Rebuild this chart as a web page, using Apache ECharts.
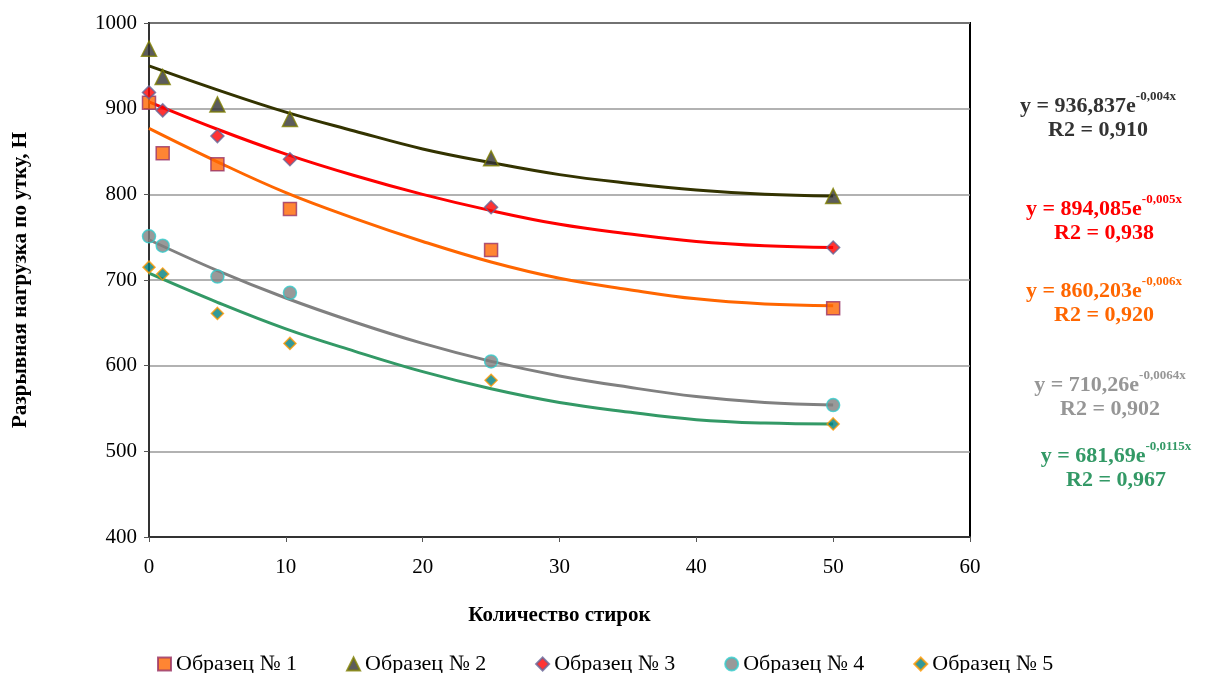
<!DOCTYPE html>
<html>
<head>
<meta charset="utf-8">
<script src="https://cdn.jsdelivr.net/npm/echarts@6/dist/echarts.min.js"></script>
<style>html,body{margin:0;padding:0;background:#fff}#c{width:1205px;height:673px}</style>
</head>
<body>
<div id="c"></div>
<script>
// ---- data ----
var seriesNames = ['Образец № 1', 'Образец № 2', 'Образец № 3', 'Образец № 4', 'Образец № 5'];
var washes = [0, 1, 5, 10.3, 25, 50];
var s1 = [907, 848, 835, 783, 735, 667];
var s2 = [970, 937, 905, 888, 842, 798];
var s3 = [919, 898, 868, 841, 785, 738];
var s4 = [751, 740, 704, 685, 605, 554];
var s5 = [715, 707, 661, 626, 583, 532];

// trend curves
var trendX = [0, 5, 10, 15, 20, 25, 30, 35, 40, 45, 50];
var t1 = [877, 838, 802, 772, 745, 721, 702, 689, 678, 672, 670];
var t2 = [950, 922, 896, 874, 853, 837, 823, 813, 805, 800, 798];
var t3 = [908, 876, 847, 822, 800, 781, 765, 754, 745, 740, 738];
var t4 = [747, 711, 679, 651, 626, 605, 588, 575, 564, 557, 554];
var t5 = [708, 674, 643, 617, 593, 573, 557, 546, 537, 533, 532];

var xTicks = [0, 10, 20, 30, 40, 50, 60];
var yTicks = [400, 500, 600, 700, 800, 900, 1000];

// annotations, top to bottom
var eqMain = ['y = 936,837e', 'y = 894,085e', 'y = 860,203e', 'y = 710,26e', 'y = 681,69e'];
var eqExp = ['-0,004x', '-0,005x', '-0,006x', '-0,0064x', '-0,0115x'];
var eqR2 = ['R2 = 0,910', 'R2 = 0,938', 'R2 = 0,920', 'R2 = 0,902', 'R2 = 0,967'];

// ---- styling ----
var FONT = '"Liberation Serif", "Times New Roman", serif';
var markerFill = ['#FF6600', '#333333', '#FF0000', '#808080', '#008080'];
var markerBorder = ['#993366', '#808000', '#666699', '#33CCCC', '#FF9900'];
var symbols = ['rect', 'triangle', 'diamond', 'circle', 'diamond'];
var symSizes = [13, 15, 13, 13, 12];
var trendColors = ['#FF6600', '#333300', '#FF0000', '#808080', '#339966'];
var eqColors = ['#333333', '#FF0000', '#FF6600', '#969696', '#339966'];
var eqX = [1098, 1104, 1104, 1110, 1116];
var eqY = [117, 220, 302, 396, 467];

var pts = [s1, s2, s3, s4, s5];
var trends = [t1, t2, t3, t4, t5];

function zip(xs, ys) { return xs.map(function (x, i) { return [x, ys[i]]; }); }

var series = [];
trends.forEach(function (t, i) {
  series.push({
    name: 'trend' + (i + 1), type: 'line', smooth: 0.4, showSymbol: false, silent: true,
    data: zip(trendX, t), z: 2,
    lineStyle: { color: trendColors[i], width: 3 }
  });
});
pts.forEach(function (p, i) {
  series.push({
    name: seriesNames[i], type: 'scatter', symbol: symbols[i], symbolSize: symSizes[i],
    data: zip(washes, p), z: 5,
    itemStyle: { color: markerFill[i], borderColor: markerBorder[i], borderWidth: 1.5 }
  });
});

var graphics = [];
eqMain.forEach(function (m, k) {
  graphics.push({
    type: 'text', x: eqX[k], y: eqY[k],
    style: {
      text: '{m|' + m + '}{s|' + eqExp[k] + '}\n{r|' + eqR2[k] + '}',
      align: 'center', verticalAlign: 'middle',
      rich: {
        m: { fontFamily: FONT, fontWeight: 'bold', fontSize: 22, fill: eqColors[k], lineHeight: 27, verticalAlign: 'bottom' },
        s: { fontFamily: FONT, fontWeight: 'bold', fontSize: 13, fill: eqColors[k], lineHeight: 27, padding: [0, 0, 14, 0], verticalAlign: 'bottom' },
        r: { fontFamily: FONT, fontWeight: 'bold', fontSize: 22, fill: eqColors[k], lineHeight: 27 }
      }
    }
  });
});

var chart = echarts.init(document.getElementById('c'));
chart.setOption({
  backgroundColor: '#fff',
  animation: false,
  grid: { left: 149, right: 235, top: 23, bottom: 136, show: true, borderColor: '#000', borderWidth: 2, backgroundColor: 'transparent', containLabel: false, outerBoundsMode: 'none' },
  xAxis: {
    type: 'value', min: xTicks[0], max: xTicks[xTicks.length - 1], interval: 10,
    name: 'Количество стирок', nameLocation: 'middle', nameGap: 68,
    nameTextStyle: { fontFamily: FONT, fontWeight: 'bold', fontSize: 21, color: '#000' },
    axisLine: { show: true, lineStyle: { color: '#333', width: 2 } },
    axisTick: { show: true, length: 5, lineStyle: { color: '#555' } },
    axisLabel: { fontFamily: FONT, fontSize: 21, color: '#000', margin: 20 },
    splitLine: { show: false }
  },
  yAxis: {
    type: 'value', min: yTicks[0], max: yTicks[yTicks.length - 1], interval: 100,
    name: 'Разрывная нагрузка по утку, Н', nameLocation: 'middle', nameGap: 118,
    nameTextStyle: { fontFamily: FONT, fontWeight: 'bold', fontSize: 21, color: '#000' },
    axisLine: { show: true, lineStyle: { color: '#333', width: 2 } },
    axisTick: { show: true, length: 5, lineStyle: { color: '#555' } },
    axisLabel: { fontFamily: FONT, fontSize: 21, color: '#000', margin: 12, formatter: function (v) { return String(v); } },
    splitLine: { show: true, lineStyle: { color: '#999', width: 1.5 } }
  },
  legend: {
    data: seriesNames, top: 648, left: 152, itemWidth: 13, itemHeight: 13, itemGap: 49,
    textStyle: { fontFamily: FONT, fontSize: 22, color: '#000' }
  },
  graphic: graphics,
  series: series
});
</script>
</body>
</html>
